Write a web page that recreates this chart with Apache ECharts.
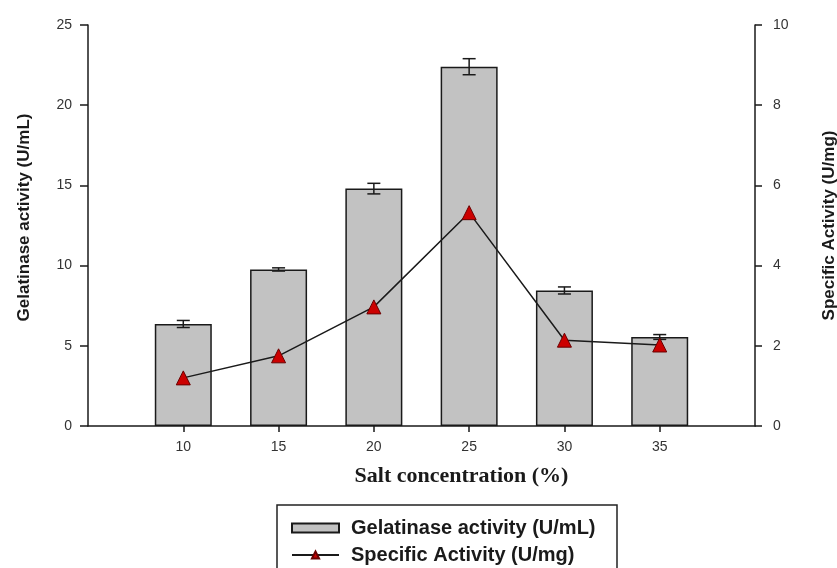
<!DOCTYPE html>
<html>
<head>
<meta charset="utf-8">
<script src="https://cdn.jsdelivr.net/npm/echarts@6/dist/echarts.min.js"></script>
<style>
  html, body { margin: 0; padding: 0; background: #fff; }
  #chart { width: 837px; height: 568px; }
</style>
</head>
<body>
<div id="chart"></div>
<script>
// Salt concentration (%) for each measurement
const salt = [10, 15, 20, 25, 30, 35];
// Gelatinase activity (U/mL), mean and error
const gelatinase = [6.36, 9.76, 14.8, 22.4, 8.45, 5.55];
const gelatinaseErr = [0.22, 0.1, 0.33, 0.5, 0.22, 0.15];
// Specific activity (U/mg)
const specific = [1.2, 1.75, 2.97, 5.32, 2.14, 2.02];
// Axis tick values
const xTicks = [10, 15, 20, 25, 30, 35];
const leftTicks = [0, 5, 10, 15, 20, 25];
const rightTicks = [0, 2, 4, 6, 8, 10];

const BAR_NAME = 'Gelatinase activity (U/mL)';
const LINE_NAME = 'Specific Activity (U/mg)';

const FONT = '"Liberation Sans", Arial, sans-serif';
const axisLineStyle = { color: '#1a1a1a', width: 1.5 };
const tickLabel = { color: '#333', fontSize: 14, fontFamily: FONT };
const legendText = {
  fontFamily: FONT, fontSize: 20, fontWeight: 'bold', color: '#1a1a1a',
  padding: [0, 0, 0, 7]
};

const chart = echarts.init(document.getElementById('chart'), null, { renderer: 'canvas' });

chart.setOption({
  animation: false,
  backgroundColor: '#fff',
  grid: { left: 88, right: 82, top: 25, bottom: 142, containLabel: false, outerBoundsMode: 'none' },
  // legend frame, open at the bottom edge of the canvas
  graphic: [{
    type: 'rect',
    shape: { x: 277, y: 505, width: 340, height: 90 },
    style: { fill: 'none', stroke: '#222', lineWidth: 1.5 },
    silent: true
  }],
  legend: [
    {
      left: 291, top: 518, padding: 0,
      itemWidth: 47, itemHeight: 9,
      textStyle: legendText,
      data: [{ name: BAR_NAME, icon: 'rect' }]
    },
    {
      left: 291, top: 545, padding: 0,
      itemWidth: 47, itemHeight: 9,
      textStyle: legendText,
      data: [LINE_NAME]
    }
  ],
  xAxis: {
    type: 'value',
    min: 5, max: 40, interval: 5,
    name: 'Salt concentration (%)',
    nameLocation: 'middle',
    nameGap: 39,
    nameTextStyle: {
      fontFamily: '"Liberation Serif", "Times New Roman", serif', fontSize: 22,
      fontWeight: 'bold', color: '#1a1a1a', padding: [0, 0, 0, 80]
    },
    axisLine: { show: true, lineStyle: axisLineStyle },
    axisTick: { show: true, length: 6, lineStyle: axisLineStyle, customValues: xTicks },
    axisLabel: Object.assign({ margin: 14, customValues: xTicks }, tickLabel),
    splitLine: { show: false }
  },
  yAxis: [
    {
      type: 'value', min: 0, max: 25, interval: 5, position: 'left',
      name: BAR_NAME,
      nameLocation: 'middle', nameGap: 55, nameRotate: 90,
      nameTextStyle: { fontFamily: FONT, fontSize: 17, fontWeight: 'bold', color: '#1a1a1a', padding: [0, 0, 0, 16] },
      axisLine: { show: true, onZero: false, lineStyle: axisLineStyle },
      axisTick: { show: true, length: 8, lineStyle: axisLineStyle, customValues: leftTicks },
      axisLabel: Object.assign({ margin: 16, customValues: leftTicks }, tickLabel),
      splitLine: { show: false }
    },
    {
      type: 'value', min: 0, max: 10, interval: 2, position: 'right',
      name: LINE_NAME,
      nameLocation: 'middle', nameGap: 66, nameRotate: 90,
      nameTextStyle: { fontFamily: FONT, fontSize: 17, fontWeight: 'bold', color: '#1a1a1a' },
      axisLine: { show: true, onZero: false, lineStyle: axisLineStyle },
      axisTick: { show: true, length: 7, lineStyle: axisLineStyle, customValues: rightTicks },
      axisLabel: Object.assign({ margin: 18, customValues: rightTicks }, tickLabel),
      splitLine: { show: false }
    }
  ],
  series: [
    {
      name: BAR_NAME,
      type: 'bar',
      yAxisIndex: 0,
      barWidth: 57,
      itemStyle: { color: '#c2c2c2', borderColor: '#1a1a1a', borderWidth: 1.5 },
      data: salt.map((s, i) => [s, gelatinase[i]]),
      z: 2
    },
    {
      name: 'error',
      type: 'custom',
      yAxisIndex: 0,
      data: salt.map((s, i) => [s, gelatinase[i] - gelatinaseErr[i], gelatinase[i] + gelatinaseErr[i]]),
      renderItem: function (params, api) {
        const lo = api.coord([api.value(0), api.value(1)]);
        const hi = api.coord([api.value(0), api.value(2)]);
        const half = 6.5;
        const style = { stroke: '#1a1a1a', lineWidth: 1.5 };
        return {
          type: 'group',
          children: [
            { type: 'line', shape: { x1: lo[0], y1: lo[1], x2: hi[0], y2: hi[1] }, style: style },
            { type: 'line', shape: { x1: lo[0] - half, y1: lo[1], x2: lo[0] + half, y2: lo[1] }, style: style },
            { type: 'line', shape: { x1: hi[0] - half, y1: hi[1], x2: hi[0] + half, y2: hi[1] }, style: style }
          ]
        };
      },
      z: 3
    },
    {
      name: LINE_NAME,
      type: 'line',
      yAxisIndex: 1,
      symbol: 'triangle',
      symbolSize: 14,
      lineStyle: { color: '#1a1a1a', width: 1.5 },
      itemStyle: { color: '#cc0000', borderColor: '#6a0000', borderWidth: 1 },
      data: salt.map((s, i) => [s, specific[i]]),
      z: 4
    }
  ]
});
</script>
</body>
</html>
